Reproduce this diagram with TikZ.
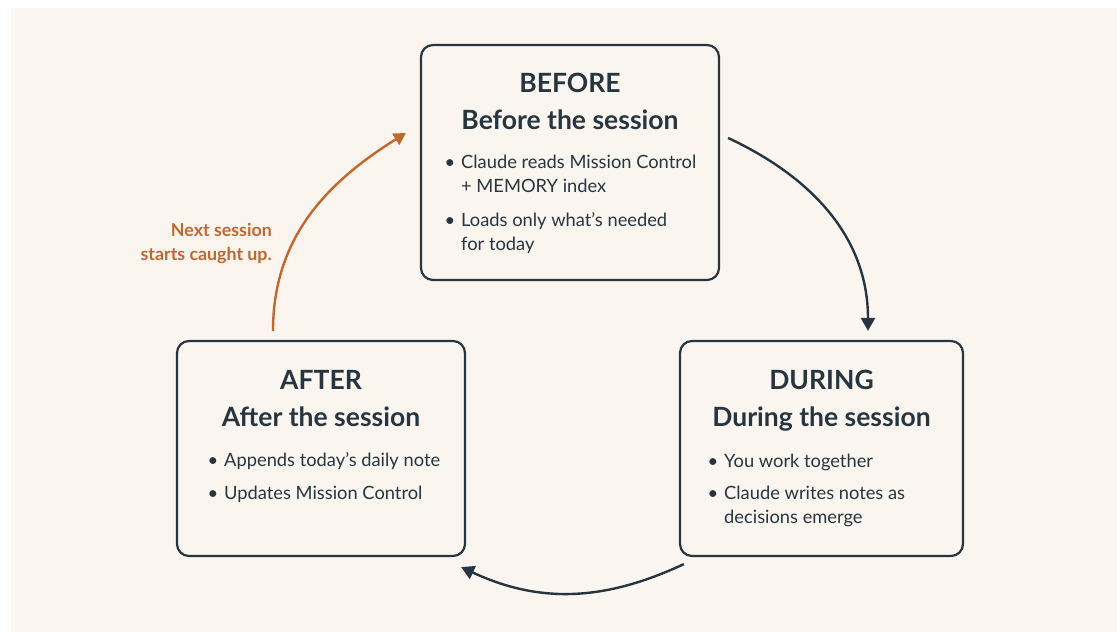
\documentclass[tikz,border=0pt]{standalone}
\usepackage{fontspec}
\setmainfont{Lato}
\usepackage{xcolor}
\usetikzlibrary{arrows.meta, positioning}

\definecolor{ink}{HTML}{263540}
\definecolor{rust}{HTML}{C4662E}
\definecolor{cream}{HTML}{FAF6EF}

\newcommand{\bul}{\makebox[0pt][r]{\textbullet\hspace{6pt}}}

\begin{document}
\begin{tikzpicture}[
    x=1pt, y=1pt,
    >={Triangle[width=14pt, length=13pt]},
    every node/.style={text=ink, inner sep=0pt},
    stagebox/.style={draw=ink, line width=2.2pt, rounded corners=12pt, fill=cream},
    stagetitle/.style={anchor=base, font=\bfseries\fontsize{26.5}{30}\selectfont},
    stageitems/.style={anchor=base west, align=left, font=\fontsize{18.3}{24}\selectfont},
    flow/.style={->, draw=ink, line width=2.4pt},
    backflow/.style={->, draw=rust, line width=2.4pt, >={Triangle[width=13pt, length=12pt]}},
]
% Page
\useasboundingbox (0,0) rectangle (1117,632);
\fill[cream] (11,0) rectangle (1117,624);

% Boxes
\node[stagebox, minimum width=298pt, minimum height=235pt] (before) at (570,469.5) {};
\node[stagebox, minimum width=288pt, minimum height=215pt] (after) at (321,183.5) {};
\node[stagebox, minimum width=283pt, minimum height=215pt] (during) at (821.5,183.5) {};

% Before (titles on their baselines, list node on its last baseline)
\node[stagetitle] (beforeT) at ([yshift=-48.5pt]before.north) {BEFORE};
\node[stagetitle] (beforeS) at ([yshift=-85.5pt]before.north) {Before the session};
\node[stageitems] (beforeL) at ([xshift=-109pt, yshift=-207pt]before.north)
    {\bul Claude reads Mission Control\\+ MEMORY index\\[10pt]\bul Loads only what's needed\\for today};

% After
\node[stagetitle] (afterT) at ([yshift=-49.5pt]after.north) {AFTER};
\node[stagetitle] (afterS) at ([yshift=-86.5pt]after.north) {After the session};
\node[stageitems] (afterL) at ([xshift=-97pt, yshift=-160pt]after.north)
    {\bul Appends today's daily note\\[9pt]\bul Updates Mission Control};

% During
\node[stagetitle] (duringT) at ([yshift=-49.5pt]during.north) {DURING};
\node[stagetitle] (duringS) at ([yshift=-86.5pt]during.north) {During the session};
\node[stageitems] (duringL) at ([xshift=-97.5pt, yshift=-184pt]during.north)
    {\bul You work together\\[8pt]\bul Claude writes notes as\\decisions emerge};

% Cycle arrows
\draw[flow] ([xshift=8pt, yshift=24.5pt]before.east) to[out=-25, in=90]
    ([xshift=46.5pt, yshift=9pt]during.north);
\draw[flow] ([xshift=5pt, yshift=-7pt]during.south west) to[out=205, in=-25]
    ([xshift=-5pt, yshift=-10pt]after.south east);
\draw[backflow] ([xshift=-48pt, yshift=9pt]after.north) to[out=90, in=212]
    ([xshift=-14pt, yshift=29.5pt]before.west);
\node[anchor=east, align=right, text=rust, font=\bfseries\fontsize{17.8}{24}\selectfont] (nextL)
    at (272,388) {Next session\\starts caught up.};

\end{tikzpicture}
\end{document}
